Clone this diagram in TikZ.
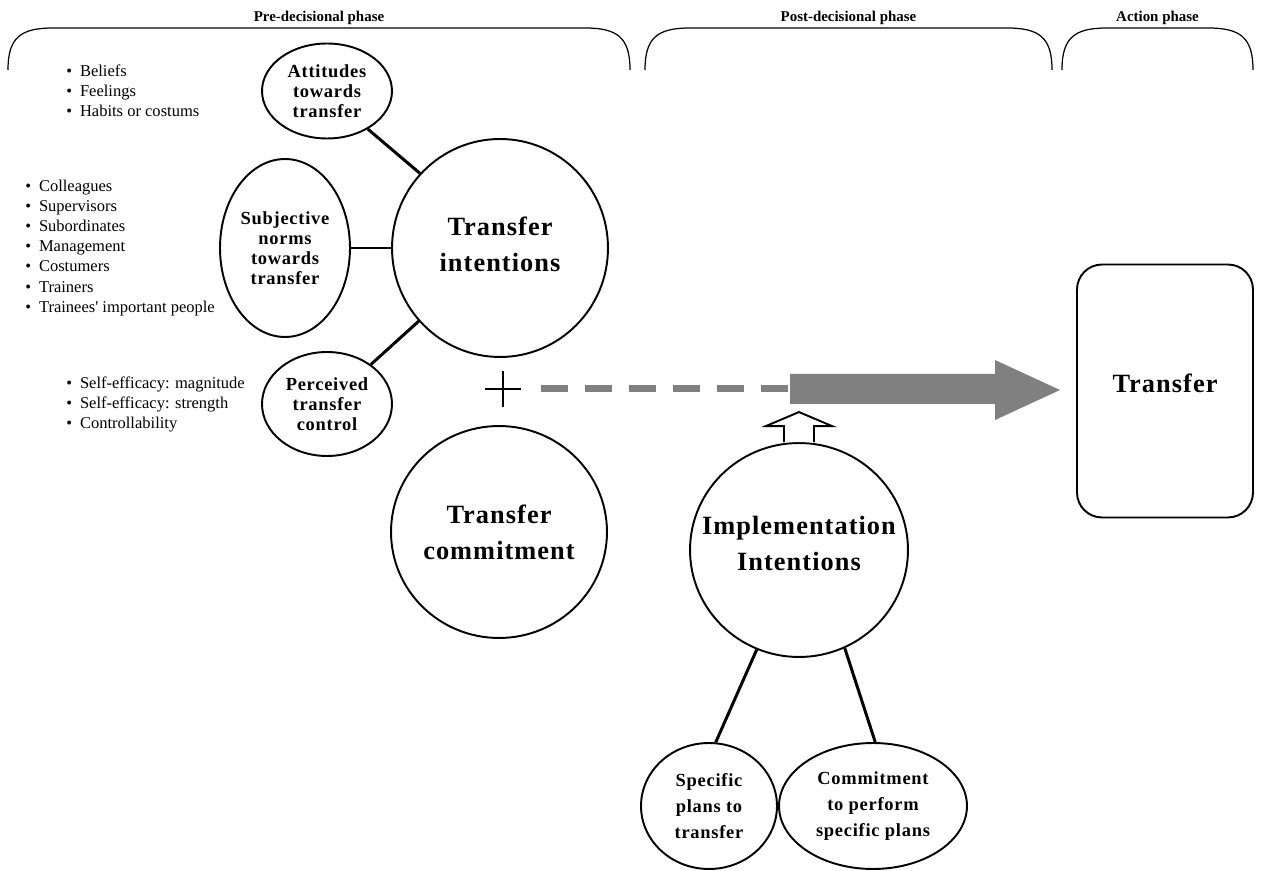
\documentclass[tikz,border=0pt]{standalone}
\usepackage{fontspec}
\setmainfont{Liberation Serif}
\newfontfamily\spacedfont[LetterSpace=4]{Liberation Serif}
\usetikzlibrary{shapes.geometric,positioning}
\newcommand{\bulletmark}{\textbullet\hspace{4.5pt}}
\definecolor{arrowgray}{RGB}{128,128,128}

\begin{document}
\begin{tikzpicture}[x=0.02cm, y=-0.02cm,
    every node/.style={inner sep=0pt},
    oval/.style={ellipse, draw, line width=1.1pt},
    small/.style={align=center, font=\spacedfont\bfseries\fontsize{10.5}{11.4}\selectfont},
    wide/.style={align=center, font=\spacedfont\bfseries\fontsize{10.5}{15}\selectfont},
    big/.style={align=center, font=\spacedfont\bfseries\fontsize{15}{20.5}\selectfont},
    items/.style={align=left, anchor=west, font=\fontsize{9.4}{11.4}\selectfont},
    phase/.style={font=\bfseries\fontsize{8.5}{10}\selectfont},
    link/.style={line width=1.7pt},
    brace/.style={line width=0.7pt}]
  \useasboundingbox (0,0) rectangle (1269,871);

  \foreach \a/\b/\t in {8/630/Pre-decisional phase, 645/1052/Post-decisional phase, 1062/1253/Action phase} {
    \draw[brace] (\a,70) .. controls (\a,38) and (\a+12,28) .. (\a+45,28) -- (\b-45,28)
      .. controls (\b-12,28) and (\b,38) .. (\b,70);
    \node[phase] (title\a) at ({(\a+\b)/2},18) {\t};
  }

  \node[oval, minimum width=2.6cm, minimum height=1.9cm,
    label={[small]center:Attitudes\\towards\\transfer}] (att) at (327,91) {};
  \node[oval, minimum width=2.6cm, minimum height=3.56cm,
    label={[small]center:Subjective\\norms\\towards\\transfer}] (norms) at (285,248) {};
  \node[oval, minimum width=2.6cm, minimum height=2.08cm,
    label={[small]center:Perceived\\transfer\\control}] (control) at (327,404) {};
  \node[oval, minimum width=4.32cm, minimum height=4.36cm,
    label={[big, yshift=0.08cm]center:Transfer\\intentions}] (intent) at (500,248) {};
  \node[oval, minimum width=4.32cm, minimum height=4.24cm,
    label={[big]center:Transfer\\commitment}] (commit) at (499,532) {};
  \node[oval, minimum width=4.36cm, minimum height=4.28cm,
    label={[big, yshift=0.14cm]center:Implementation\\Intentions}] (impl) at (799,550) {};
  \node[oval, minimum width=2.72cm, minimum height=2.52cm,
    label={[wide]center:Specific\\plans to\\transfer}] (plans) at (709,806) {};
  \node[oval, minimum width=3.76cm, minimum height=2.52cm,
    label={[wide]center:Commitment\\to perform\\specific plans}] (perform) at (873,806) {};
  \node[draw, line width=1.1pt, rounded corners=0.5cm, minimum width=3.52cm, minimum height=5.06cm,
    label={[big, yshift=0.16cm]center:Transfer}] (result) at (1165,391) {};

  \node[items] (attitems) at (66,91) {\bulletmark Beliefs\\ \bulletmark Feelings\\ \bulletmark Habits or costums};
  \node[items] (normitems) at (25,248) {\bulletmark Colleagues\\ \bulletmark Supervisors\\ \bulletmark Subordinates\\
    \bulletmark Management\\ \bulletmark Costumers\\ \bulletmark Trainers\\ \bulletmark Trainees\textquotesingle\ important people};
  \node[items] (controlitems) at (66,404) {\bulletmark Self-efficacy: magnitude\\ \bulletmark Self-efficacy: strength\\ \bulletmark Controllability};

  \draw[link] (att.-43) -- (intent.137);
  \draw[link] (norms.east) -- (intent.west);
  \draw[link] (control.42) -- (intent.-138);
  \draw[link] (impl.-113) -- (plans.84);
  \draw[link] (impl.-65) -- (perform.88);

  \coordinate (plus) at (503,389);
  \draw[line width=1.2pt] (plus) ++(-18,0) -- ++(36,0) (plus) ++(0,-18) -- ++(0,36);

  \coordinate (dashstart) at (541,389);
  \coordinate (shaft) at (790,389);
  \coordinate (tip) at (1060,390);
  \draw[arrowgray, line width=0.14cm, dash pattern=on 0.54cm off 0.34cm] (dashstart) -- (shaft);
  \fill[arrowgray] (790,374) -- (995,374) -- (995,360) -- (tip) -- (995,420) -- (995,404) -- (790,404) -- cycle;

  \draw[line width=1.1pt, fill=white] (impl.north) ++(-15,0) -- ++(0,-16) -- ++(-18,0) -- ++(33,-14)
    -- ++(33,14) -- ++(-18,0) -- ++(0,16);
\end{tikzpicture}
\end{document}
